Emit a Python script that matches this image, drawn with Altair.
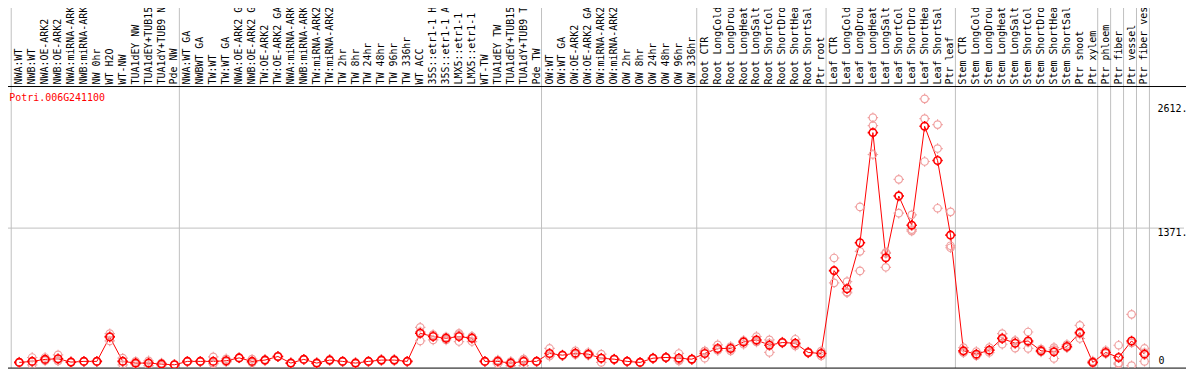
import altair as alt
import pandas as pd

gene_id = "Potri.006G241100"

categories = [
    "NWA:WT", "NWB:WT", "NWA:OE-ARK2", "NWB:OE-ARK2", "NWA:miRNA-ARK2", "NWB:miRNA-ARK2",
    "NW 0hr", "WT H2O", "WT-NW", "TUA1dEY NW", "TUA1dEY+TUB15 NW", "TUA1dY+TUB9 NW", "Pde NW",
    "NWA:WT GA", "NWBWT GA", "TW:WT", "TW:WT GA", "NWA:OE-ARK2 GA", "NWB:OE-ARK2 GA",
    "TW:OE-ARK2", "TW:OE-ARK2 GA", "NWA:miRNA-ARK2", "NWB:miRNA-ARK2", "TW:miRNA-ARK2",
    "TW:miRNA-ARK2", "TW 2hr", "TW 8hr", "TW 24hr", "TW 48hr", "TW 96hr", "TW 336hr",
    "WT ACC", "35S::etr1-1 H2O", "35S::etr1-1 ACC", "LMX5::etr1-1 H2O", "LMX5::etr1-1 ACC",
    "WT-TW", "TUA1dEY TW", "TUA1dEY+TUB15 TW", "TUA1dY+TUB9 TW", "Pde TW",
    "OW:WT", "OW:WT GA", "OW:OE-ARK2", "OW:OE-ARK2 GA", "OW:miRNA-ARK2", "OW:miRNA-ARK2",
    "OW 2hr", "OW 8hr", "OW 24hr", "OW 48hr", "OW 96hr", "OW 336hr",
    "Root CTR", "Root LongCold", "Root LongDrought", "Root LongHeat", "Root LongSalt",
    "Root ShortCold", "Root ShortDrought", "Root ShortHeat", "Root ShortSalt", "Ptr root",
    "Leaf CTR", "Leaf LongCold", "Leaf LongDrought", "Leaf LongHeat", "Leaf LongSalt",
    "Leaf ShortCold", "Leaf ShortDrought", "Leaf ShortHeat", "Leaf ShortSalt", "Ptr leaf",
    "Stem CTR", "Stem LongCold", "Stem LongDrought", "Stem LongHeat", "Stem LongSalt",
    "Stem ShortCold", "Stem ShortDrought", "Stem ShortHeat", "Stem ShortSalt", "Ptr shoot",
    "Ptr xylem",
    "Ptr phloem", "Ptr fiber", "Ptr vessel", "Ptr fiber vessel",
]

means = [
    32, 42, 62, 68, 35, 42, 42, 286, 42, 25, 25, 15, 8,
    42, 42, 42, 48, 77, 42, 55, 91, 25, 62, 25, 55, 42, 25, 42, 55, 55, 42,
    322, 290, 273, 290, 273, 42, 42, 25, 42, 42,
    121, 104, 124, 114, 74, 64, 42, 32, 74, 81, 74, 64,
    121, 171, 171, 236, 256, 203, 230, 223, 131, 121,
    947, 766, 1225, 2323, 1076, 1691, 1400, 2386, 2045, 1301,
    147, 114, 154, 270, 223, 246, 147, 137, 190, 329, 32,
    131, 81, 246, 114,
]

replicates = [
    [28, 32, 36], [81, 8, 37], [81, 55, 50], [107, 50, 47], [35, 32, 38], [42, 40, 44],
    [42, 40, 44], [319, 246, 293], [74, 8, 44], [42, 20, 13], [48, 0, 27], [25, 0, 20],
    [8, 5, 11],
    [42, 40, 44], [42, 40, 44], [87, 20, 19], [68, 40, 36], [77, 75, 79], [64, 30, 32],
    [55, 50, 60], [91, 88, 94], [25, 22, 28], [62, 60, 64], [25, 20, 30], [55, 50, 60],
    [42, 40, 44], [25, 20, 30], [42, 40, 44], [55, 50, 60], [55, 50, 60], [42, 40, 44],
    [382, 246, 338], [309, 256, 305], [286, 256, 277], [309, 240, 321], [240, 290, 289],
    [42, 40, 44], [18, 55, 53], [0, 35, 40], [0, 60, 66], [42, 40, 44],
    [171, 96, 96], [104, 100, 108], [147, 112, 113], [131, 105, 106], [114, 32, 76],
    [64, 60, 68], [42, 40, 44], [32, 30, 34], [74, 70, 78], [81, 78, 84], [121, 55, 46],
    [64, 60, 68],
    [74, 144, 145], [207, 153, 153], [190, 147, 176], [213, 248, 247], [290, 236, 242],
    [256, 131, 222], [230, 225, 235], [263, 196, 210], [131, 125, 137], [97, 121, 145],
    [1073, 825, 943], [838, 726, 734], [1582, 1139, 944], [2472, 2393, 2105],
    [1119, 980, 1129], [1857, 1520, 1696], [1503, 1341, 1356], [2660, 2462, 2035],
    [2403, 2164, 1569], [1533, 1195, 1175],
    [180, 130, 131], [140, 100, 102], [180, 130, 152], [319, 213, 278], [250, 174, 245],
    [335, 171, 232], [165, 140, 136], [180, 71, 160], [210, 180, 180], [402, 270, 315],
    [45, 25, 26],
    [150, 121, 122], [203, 15, 25], [511, 0, 227], [171, 42, 129],
]

group_starts = [0, 13, 41, 53, 63, 73, 84, 85, 86, 87, 88]
grid_values = [1371]
y_ticks = [0, 1371, 2612]
y_tick_labels = ["0", "1371.", "2612."]

# ---- layout ----
W, H = 1182, 283
xs = alt.Scale(domain=[-0.869, 90.054], nice=False, zero=False)
ys = alt.Scale(domain=[-24.8, 2782.6], nice=False, zero=False)

FONT = "DejaVu Sans Mono"
PINK = "#f0a0a0"
RED = "#ff0000"
GREY = "#c0c0c0"

marker = ("M-0.75,0A0.75,0.75 0 1,0 0.75,0A0.75,0.75 0 1,0 -0.75,0"
          "M0,-0.75L0,-1.05M0,0.75L0,1.05M-0.75,0L-1.05,0M0.75,0L1.05,0")

idx = list(range(len(categories)))
mean_df = pd.DataFrame({"i": idx, "cat": categories, "expr": means})
rep_df = pd.DataFrame([{"i": i, "expr": v} for i, reps in enumerate(replicates) for v in reps])
sep_df = pd.DataFrame({"s": [g - 0.62 for g in group_starts]})
grid_df = pd.DataFrame({"g": grid_values})
tick_df = pd.DataFrame({"t": y_ticks, "lab": y_tick_labels})
one_df = pd.DataFrame({"gene": [gene_id]})

seps = alt.Chart(sep_df).mark_rule(color=GREY, strokeWidth=1).encode(
    x=alt.X("s:Q", scale=xs, axis=None), y=alt.value(-80), y2=alt.value(H)
)
grid = alt.Chart(grid_df).mark_rule(color=GREY, strokeWidth=1).encode(
    y=alt.Y("g:Q", scale=ys, axis=None), x=alt.value(-8), x2=alt.value(W)
)
frame_top = alt.Chart(one_df).mark_rule(color="black", strokeWidth=1).encode(
    y=alt.value(0), x=alt.value(-8), x2=alt.value(W + 4)
)
frame_bot = alt.Chart(one_df).mark_rule(color="black", strokeWidth=1).encode(
    y=alt.value(H), x=alt.value(-8), x2=alt.value(W + 4)
)
labels = alt.Chart(mean_df).mark_text(
    angle=270, align="left", baseline="middle", font=FONT, fontSize=10, color="black"
).encode(x=alt.X("i:Q", scale=xs, axis=None), y=alt.value(-2), text="cat:N")

gene = alt.Chart(one_df).mark_text(
    align="left", baseline="middle", font=FONT, fontSize=10, color=RED
).encode(x=alt.value(1.3), y=alt.value(11.3), text="gene:N")

ylab_hi = alt.Chart(tick_df).transform_filter("datum.t > 0").mark_text(
    align="left", baseline="top", font=FONT, fontSize=10, color="black"
).encode(y=alt.Y("t:Q", scale=ys, axis=None), x=alt.value(1155.3), text="lab:N")
ylab_0 = alt.Chart(tick_df).transform_filter("datum.t == 0").mark_text(
    align="left", baseline="alphabetic", dy=-1.5, font=FONT, fontSize=10, color="black"
).encode(y=alt.Y("t:Q", scale=ys, axis=None), x=alt.value(1156.3), text="lab:N")

line = alt.Chart(mean_df).mark_line(color=RED, strokeWidth=1).encode(
    x=alt.X("i:Q", scale=xs, axis=None), y=alt.Y("expr:Q", scale=ys, axis=None)
)
reps = alt.Chart(rep_df).mark_point(
    shape=marker, size=100, color=PINK, strokeWidth=1.2, opacity=1, clip=True
).encode(x=alt.X("i:Q", scale=xs, axis=None), y=alt.Y("expr:Q", scale=ys, axis=None))
pts = alt.Chart(mean_df).mark_point(
    shape=marker, size=100, color=RED, strokeWidth=1.6, opacity=1, clip=True
).encode(x=alt.X("i:Q", scale=xs, axis=None), y=alt.Y("expr:Q", scale=ys, axis=None))

chart = alt.layer(
    seps, grid, frame_top, frame_bot, labels, gene, ylab_hi, ylab_0, line, reps, pts
).properties(
    width=W, height=H,
    autosize=alt.AutoSizeParams(type="none"),
    padding={"left": 0, "top": 78, "right": 2, "bottom": 1},
    background="white",
).configure_view(stroke=None)

chart.save("out.html", embed_options={"renderer": "svg", "actions": False})
